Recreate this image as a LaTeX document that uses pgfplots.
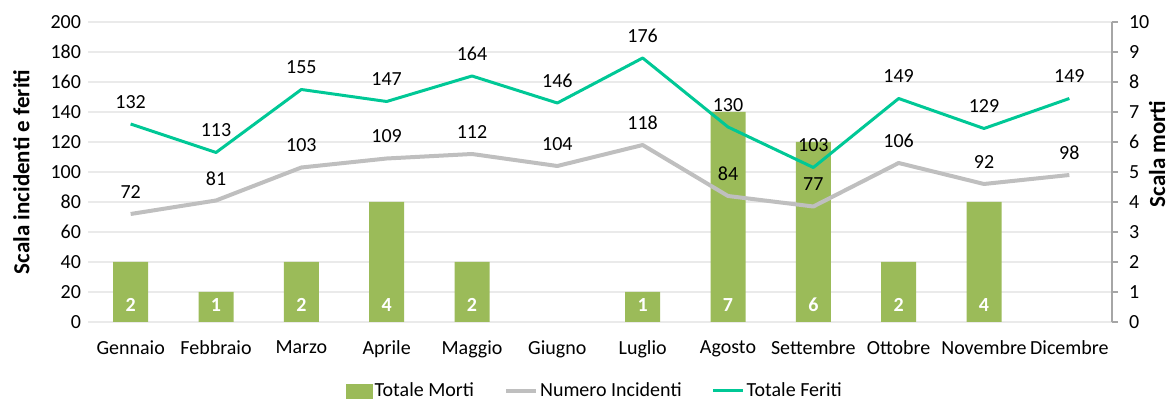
\documentclass[border=0pt]{standalone}
\usepackage{fontspec}
\setmainfont{Carlito}
\usepackage{pgfplots}
\pgfplotsset{compat=1.18}
\definecolor{morti}{HTML}{9BBB59}
\definecolor{incid}{HTML}{BFBFBF}
\definecolor{feriti}{HTML}{00C896}
\definecolor{gridc}{HTML}{EAEAEA}
\definecolor{axc}{HTML}{A6A6A6}
\begin{document}
\begin{tikzpicture}
\useasboundingbox (0,0) rectangle (586.5pt,200.5pt);
\pgfplotsset{
  base/.style={
    at={(44pt,39.5pt)}, anchor=south west,
    scale only axis, width=512pt, height=150pt,
    xmin=0.5, xmax=12.5,
    font=\fontsize{10}{12}\selectfont,
    /pgf/number format/assume math mode=true,
    tick label style={font=\fontsize{10}{12}\selectfont},
  }
}
% right axis: bars
\begin{axis}[base,
  axis y line*=right, axis x line*=bottom,
  ymin=0, ymax=10, ytick={0,1,...,10},
  ymajorgrids, grid style={gridc, line width=0.6pt},
  y axis line style={axc, line width=0.6pt},
  x axis line style={draw=gridc, line width=0.8pt},
  ytick style={axc, line width=0.6pt},
  major tick length=3pt,
  tick align=outside,
  yticklabel style={xshift=2pt},
  xtick={1,...,12},
  xticklabels={Gennaio,Febbraio,Marzo,Aprile,Maggio,Giugno,Luglio,Agosto,Settembre,Ottobre,Novembre,Dicembre},
  x tick style={draw=none},
  xticklabel style={yshift=-3pt},
  ylabel={\fontsize{11.5}{13}\selectfont\textbf{Scala morti}},
  ylabel style={at={(axis description cs:1.044,0.56)}, anchor=center},
]
\addplot[ybar, bar width=17.5pt, fill=morti, draw=none,
  nodes near coords,
  visualization depends on=rawy \as \ry,
  every node near coord/.append style={text=white, font=\fontsize{10}{12}\selectfont\bfseries, anchor=center, yshift={-\ry*15pt+8.5pt}},
] coordinates {(1,2)(2,1)(3,2)(4,4)(5,2)(7,1)(8,7)(9,6)(10,2)(11,4)};
\end{axis}
% left axis: lines
\begin{axis}[base,
  axis y line*=left, hide x axis,
  ymin=0, ymax=200, ytick={0,20,...,200},
  y axis line style={draw=none},
  ytick style={draw=none},
  ylabel={\fontsize{11.5}{13}\selectfont\textbf{Scala incidenti e feriti}},
  ylabel style={at={(axis description cs:-0.065,0.5)}, anchor=center},
  legend style={at={(0.495,-0.23)}, anchor=center, draw=none, fill=none,
    legend columns=3, font=\fontsize{10}{12}\selectfont,
    /tikz/every even column/.append style={column sep=14pt},
    nodes={inner sep=1pt}},
  legend cell align=left,
]
\addlegendimage{legend image code/.code={\fill[morti] (0pt,-3.5pt) rectangle (13pt,3.5pt);}}
\addlegendentry{Totale Morti}
\addlegendimage{legend image code/.code={\draw[incid, line width=2pt] (0pt,0pt) -- (15pt,0pt);}}
\addlegendentry{Numero Incidenti}
\addlegendimage{legend image code/.code={\draw[feriti, line width=1.5pt] (0pt,0pt) -- (15pt,0pt);}}
\addlegendentry{Totale Feriti}
\addplot[incid, line width=2pt, line join=round, forget plot,
  nodes near coords,
  every node near coord/.append style={text=black, anchor=center, yshift=11pt},
] coordinates {(1,72)(2,81)(3,103)(4,109)(5,112)(6,104)(7,118)(8,84)(9,77)(10,106)(11,92)(12,98)};
\addplot[feriti, line width=1.5pt, line join=round, forget plot,
  nodes near coords,
  every node near coord/.append style={text=black, anchor=center, yshift=11pt},
] coordinates {(1,132)(2,113)(3,155)(4,147)(5,164)(6,146)(7,176)(8,130)(9,103)(10,149)(11,129)(12,149)};
\end{axis}
\end{tikzpicture}
\end{document}
